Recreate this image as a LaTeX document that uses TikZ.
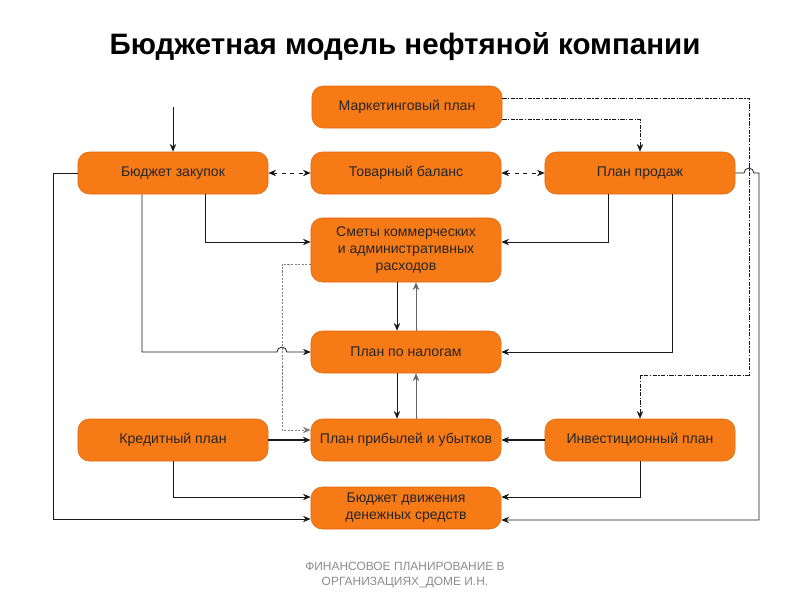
\documentclass[tikz,border=0pt]{standalone}
\usepackage{fontspec}
\setmainfont{Liberation Sans}
\usetikzlibrary{arrows.meta,calc}
\definecolor{planorange}{RGB}{246,122,22}
\definecolor{planedge}{RGB}{222,104,18}

\begin{document}
\begin{tikzpicture}[x=0.025cm, y=-0.025cm,
    plan/.style={draw=planedge, fill=planorange, rounded corners=8pt, minimum width=4.75cm, minimum height=1.05cm, align=center, text=black!85, font=\fontsize{10}{12.2}\selectfont},
    link/.style={-{Stealth[length=5.5pt,width=4.5pt]}, black!90, line width=0.55pt},
    thinlink/.style={-{Stealth[length=5.5pt,width=4.5pt]}, black!60, line width=0.35pt},
    dlink/.style={{Stealth[length=5.5pt,width=4.5pt]}-{Stealth[length=5.5pt,width=4.5pt]}, black!90, line width=0.5pt, dashed},
    plink/.style={-{Stealth[length=5.5pt,width=4.5pt]}, black!90, line width=0.4pt, dash pattern=on 3pt off 1pt on 1pt off 1pt},
    glink/.style={-{Stealth[length=5.5pt,width=4.5pt]}, black!50, line width=0.35pt, dash pattern=on 1.5pt off 1pt}]
    \useasboundingbox (0,0) rectangle (800,600);

    % Title
    \node (title) at (405,47) {\fontsize{21}{25}\selectfont\bfseries Бюджетная модель нефтяной компании};

    % Plans
    \node[plan] (mkt) at (407,107) {Маркетинговый план};
    \node[plan] (zak) at (173,173) {Бюджет закупок};
    \node[plan] (tov) at (406,173) {Товарный баланс};
    \node[plan] (prod) at (640,173) {План продаж};
    \node[plan, minimum height=1.6cm] (smet) at (406,250) {Сметы коммерческих\\и административных\\расходов};
    \node[plan] (nal) at (406,352) {План по налогам};
    \node[plan] (kred) at (173,440) {Кредитный план};
    \node[plan] (pribyl) at (406,440) {План прибылей и убытков};
    \node[plan] (invest) at (640,440) {Инвестиционный план};
    \node[plan] (dds) at (406,508) {Бюджет движения\\денежных средств};

    % Footer
    \node[align=center, text=black!45, font=\fontsize{8.5}{10.7}\selectfont] (foot) at (405,575) {ФИНАНСОВОЕ ПЛАНИРОВАНИЕ В\\ОРГАНИЗАЦИЯХ\_ДОМЕ И.Н.};

    % Top row
    \coordinate (zakin) at (173,107);
    \draw[link] (zakin) -- (zak.north);
    \draw[dlink] (zak.east) -- (tov.west);
    \draw[dlink] (tov.east) -- (prod.west);
    \draw[plink] ($(mkt.east)+(0,12)$) -| (prod.north);
    \draw[plink] ($(mkt.east)+(0,-9)$) -| (749,375) -| (invest.north);

    % Into the estimates and taxes
    \draw[link] ($(zak.south)+(32,0)$) |- ($(smet.west)+(0,-8)$);
    \draw[link] ($(prod.south)+(-32,0)$) |- ($(smet.east)+(0,-8)$);
    \draw[link] ($(zak.south)+(-31,0)$) |- (277,352) arc[start angle=180, end angle=0, radius=3.5pt] -- (nal.west);
    \draw[link] ($(prod.south)+(32,0)$) |- (nal.east);
    \draw[glink] ($(smet.west)+(0,14)$) -| (282,430) -- ($(pribyl.west)+(0,-10)$);

    % Middle column
    \draw[link] ($(smet.south)+(-9,0)$) -- ($(nal.north)+(-9,0)$);
    \draw[thinlink] ($(nal.north)+(10,0)$) -- ($(smet.south)+(10,0)$);
    \draw[link] ($(nal.south)+(-9,0)$) -- ($(pribyl.north)+(-9,0)$);
    \draw[thinlink] ($(pribyl.north)+(10,0)$) -- ($(nal.south)+(10,0)$);

    % Bottom rows
    \draw[link, line width=0.8pt] (kred.east) -- (pribyl.west);
    \draw[link, line width=0.8pt] (invest.west) -- (pribyl.east);
    \draw[link] (kred.south) |- ($(dds.west)+(0,-11)$);
    \draw[link] (invest.south) |- ($(dds.east)+(0,-11)$);
    \draw[link] (zak.west) -- (53,173) |- ($(dds.west)+(0,11)$);
    \draw[link] (prod.east) -- (744,173) arc[start angle=180, end angle=0, radius=3.5pt] -- (759,173) |- ($(dds.east)+(0,12)$);
\end{tikzpicture}
\end{document}
